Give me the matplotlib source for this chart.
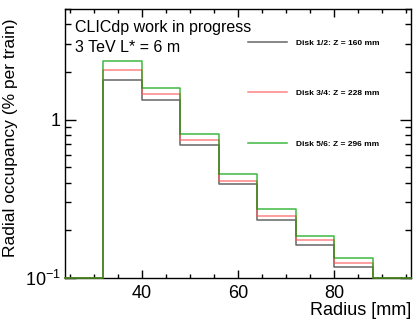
import numpy as np
import matplotlib
matplotlib.use("Agg")
import matplotlib.pyplot as plt
from matplotlib.ticker import MultipleLocator, LogLocator, NullFormatter, FixedLocator, FixedFormatter

plt.rcParams['font.family'] = ['Liberation Sans', 'DejaVu Sans']
plt.rcParams['mathtext.fontset'] = 'custom'
plt.rcParams['mathtext.rm'] = 'Liberation Sans'
plt.rcParams['mathtext.it'] = 'Liberation Sans:italic'
plt.rcParams['mathtext.bf'] = 'Liberation Sans:bold'

bin_edges = [24, 32, 40, 48, 56, 64, 72, 80, 88, 96]
disk12 = [0.0, 1.79, 1.34, 0.69, 0.394, 0.231, 0.161, 0.118, 0.0]
disk34 = [0.0, 2.05, 1.45, 0.747, 0.410, 0.248, 0.174, 0.125, 0.0]
disk56 = [0.0, 2.36, 1.59, 0.807, 0.457, 0.272, 0.185, 0.133, 0.0]
labels = ["Disk 1/2: Z = 160 mm", "Disk 3/4: Z = 228 mm", "Disk 5/6: Z = 296 mm"]
colors = ["#333333", "#ff5a5a", "#00a000"]

ymin, ymax = 0.1, 5.0

fig = plt.figure(figsize=(4.17, 3.20), dpi=100)
ax = fig.add_axes([65/417, 1-278/320, (411-65)/417, (278-9)/320])

for vals, c, lab in zip([disk12, disk34, disk56], colors, labels):
    v = np.clip(np.array(vals, dtype=float), ymin, None)
    xs = np.repeat(bin_edges, 2)[1:-1]
    ys = np.repeat(v, 2)
    ax.plot(xs, ys, color=c, lw=1.1, alpha=0.75, label=lab, clip_on=False, zorder=5)

ax.set_yscale('log')
ax.set_xlim(24, 96)
ax.set_ylim(ymin, ymax)

ax.xaxis.set_major_locator(FixedLocator([40, 60, 80]))
ax.xaxis.set_minor_locator(MultipleLocator(5))
ax.yaxis.set_major_locator(FixedLocator([0.1, 1]))
ax.yaxis.set_major_formatter(FixedFormatter([r"$\mathrm{10^{-1}}$", "1"]))
ax.yaxis.set_minor_locator(LogLocator(base=10, subs=np.arange(2, 10)))
ax.yaxis.set_minor_formatter(NullFormatter())

ax.tick_params(which='both', direction='in', top=True, right=True, labelsize=13, width=1)
ax.tick_params(axis='x', which='major', length=5.5, pad=5)
ax.tick_params(axis='x', which='minor', length=2.7)
ax.tick_params(axis='y', which='major', length=8, pad=3)
ax.tick_params(axis='y', which='minor', length=4)
for s in ax.spines.values():
    s.set_linewidth(1.0)

ax.set_ylabel("Radial occupancy (% per train)", fontsize=12.5)
ax.yaxis.set_label_coords(-0.137, 0.52)
ax.set_xlabel("Radius [mm]", fontsize=13, loc='right', labelpad=0)

ax.text(0.03, 0.96, "CLICdp work in progress", transform=ax.transAxes, fontsize=11.5, va='top', ha='left')
ax.text(0.03, 0.885, "3 TeV L* = 6 m", transform=ax.transAxes, fontsize=11.5, va='top', ha='left')

leg = ax.legend(loc='upper left', bbox_to_anchor=(0.52, 0.90), frameon=False,
                prop={'size': 6, 'weight': 'bold'}, handlelength=4.7, labelspacing=5.1,
                handletextpad=1.0, borderaxespad=0)

fig.savefig("out.png", dpi=100)
